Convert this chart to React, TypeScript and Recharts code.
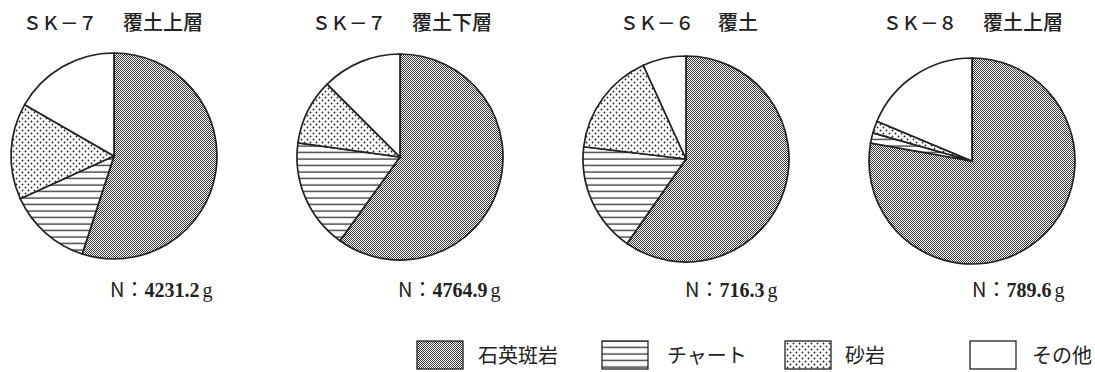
import React from 'react';
import { PieChart, Pie, Cell } from 'recharts';

// rock types, clockwise from 12 o'clock
const categories = ['石英斑岩', 'チャート', '砂岩', 'その他'];
const patternIds = ['pat-quartz', 'pat-chert', 'pat-sand', 'pat-other'];

// percentages
const sk7Upper = [55.0, 13.2, 15.1, 16.7];
const sk7Lower = [59.9, 17.3, 10.3, 12.5];
const sk6 = [59.7, 17.2, 16.3, 6.8];
const sk8Upper = [77.8, 1.6, 1.9, 18.7];

const pitCodes = ['ＳＫ－７', 'ＳＫ－７', 'ＳＫ－６', 'ＳＫ－８'];
const layerNames = ['覆土上層', '覆土下層', '覆土', '覆土上層'];
const totalWeights = ['4231.2', '4764.9', '716.3', '789.6'];

const pits = [sk7Upper, sk7Lower, sk6, sk8Upper];

// layout
const centers = [
  { cx: 114, cy: 156 },
  { cx: 400, cy: 157 },
  { cx: 686, cy: 159 },
  { cx: 972, cy: 161 },
];
const codeX = [23, 312, 620, 883];
const layerX = [123, 412, 718, 983];
const weightX = [110, 398, 685, 972];
const legendBoxX = [417, 602, 785, 970];
const legendTextX = [478, 667, 845, 1032];

const jp = '"Noto Sans CJK JP", "Noto Sans", sans-serif';
const serif = '"Liberation Serif", "DejaVu Serif", serif';
const ink = '#222';

const Patterns = () => (
  <defs>
    <pattern id="pat-quartz" width="2" height="2" patternUnits="userSpaceOnUse">
      <rect width="2" height="2" fill="#fff" />
      <rect x="0" y="0" width="1" height="1" fill="#3a3a3a" />
      <rect x="1" y="1" width="1" height="1" fill="#3a3a3a" />
    </pattern>
    <pattern id="pat-chert" width="10" height="6.5" patternUnits="userSpaceOnUse">
      <rect width="10" height="6.5" fill="#fff" />
      <line x1="0" y1="3" x2="10" y2="3" stroke={ink} strokeWidth="1.2" />
    </pattern>
    <pattern id="pat-sand" width="6" height="6" patternUnits="userSpaceOnUse">
      <rect width="6" height="6" fill="#fff" />
      <circle cx="1.5" cy="1.5" r="0.9" fill={ink} />
      <circle cx="4.5" cy="4.5" r="0.9" fill={ink} />
    </pattern>
    <pattern id="pat-other" width="4" height="4" patternUnits="userSpaceOnUse">
      <rect width="4" height="4" fill="#fff" />
    </pattern>
  </defs>
);

const App: React.FC = () => {
  const pieData = pits.map((vals) => vals.map((v, i) => ({ name: categories[i], value: v })));

  return (
    <div style={{ position: 'absolute', left: 0, top: 0, width: 1095, height: 372, background: '#fff' }}>
      <PieChart width={1095} height={372} margin={{ top: 0, right: 0, bottom: 0, left: 0 }}>
        <Patterns />
        {pieData.map((data, p) => (
          <Pie
            key={p}
            data={data}
            dataKey="value"
            nameKey="name"
            cx={centers[p].cx}
            cy={centers[p].cy}
            outerRadius={103}
            startAngle={90}
            endAngle={-270}
            stroke={ink}
            strokeWidth={1.7}
            isAnimationActive={false}
          >
            {data.map((_, i) => (
              <Cell key={i} fill={`url(#${patternIds[i]})`} />
            ))}
          </Pie>
        ))}

        {pitCodes.map((code, p) => (
          <g key={`t${p}`}>
            <text x={codeX[p]} y={30} fontFamily={jp} fontSize={18.5} fontWeight={500} fill={ink}>
              {code}
            </text>
            <text x={layerX[p]} y={30} fontFamily={jp} fontSize={20} fontWeight={500} fill={ink}>
              {layerNames[p]}
            </text>
          </g>
        ))}

        {totalWeights.map((w, p) => (
          <text key={`n${p}`} x={weightX[p]} y={297} fontSize={20} fill={ink}>
            <tspan fontFamily={jp}>N：</tspan>
            <tspan fontFamily={serif} fontWeight="bold">{w}</tspan>
            <tspan fontFamily={serif} dx={3}>g</tspan>
          </text>
        ))}

        {categories.map((c, i) => (
          <g key={`l${i}`}>
            <rect
              x={legendBoxX[i]}
              y={341}
              width={46}
              height={28}
              fill={`url(#${patternIds[i]})`}
              stroke={ink}
              strokeWidth={1.3}
            />
            <text x={legendTextX[i]} y={363} fontFamily={jp} fontSize={20} fill={ink}>
              {c}
            </text>
          </g>
        ))}
      </PieChart>
    </div>
  );
};

export default App;
